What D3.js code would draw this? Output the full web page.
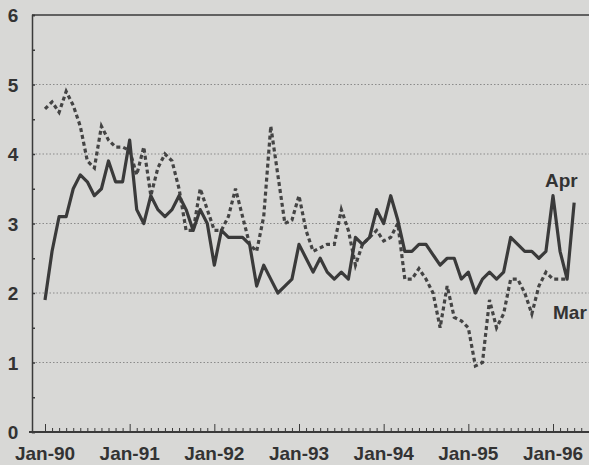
<!DOCTYPE html>
<html><head><meta charset="utf-8">
<script src="https://cdn.jsdelivr.net/npm/d3@7"></script>
<style>
body{margin:0;background:#d8d8d6;}
text{font-family:"Liberation Sans",Arial,sans-serif;font-weight:bold;fill:#333;}
</style></head>
<body><svg id="chart" width="589" height="465"></svg>
<script>
// monthly values starting Jan-90
const aprSeries = [
  1.9,2.6,3.1,3.1,3.5,3.7,3.6,3.4,3.5,3.9,3.6,3.6,
  4.2,3.2,3.0,3.4,3.2,3.1,3.2,3.4,3.2,2.9,3.2,3.0,
  2.4,2.9,2.8,2.8,2.8,2.7,2.1,2.4,2.2,2.0,2.1,2.2,
  2.7,2.5,2.3,2.5,2.3,2.2,2.3,2.2,2.8,2.7,2.8,3.2,
  3.0,3.4,3.05,2.6,2.6,2.7,2.7,2.55,2.4,2.5,2.5,2.2,
  2.3,2.0,2.2,2.3,2.2,2.3,2.8,2.7,2.6,2.6,2.5,2.6,
  3.4,2.6,2.2,3.3
];
const marSeries = [
  4.65,4.75,4.6,4.9,4.7,4.4,3.9,3.8,4.4,4.2,4.1,4.1,
  4.05,3.7,4.1,3.4,3.8,4.0,3.9,3.5,2.9,2.9,3.5,3.2,
  2.9,2.9,3.1,3.5,3.1,2.7,2.6,3.1,4.4,3.7,3.0,3.05,
  3.4,2.9,2.6,2.65,2.7,2.7,3.2,2.9,2.4,2.7,2.8,2.9,
  2.75,2.8,3.0,2.2,2.2,2.35,2.2,2.0,1.5,2.1,1.65,1.6,
  1.5,0.95,1.0,1.9,1.5,1.7,2.2,2.2,2.0,1.7,2.1,2.3,
  2.2,2.2,2.2
];
const yearLabels = ["Jan-90","Jan-91","Jan-92","Jan-93","Jan-94","Jan-95","Jan-96"];
const yTicks = [0,1,2,3,4,5,6];

const svg = d3.select("#chart");
const mLeft = 32, mRight = 589, mTop = 15, mBottom = 432;
const x = d3.scaleLinear().domain([0, 72]).range([45, 553]);
const y = d3.scaleLinear().domain([0, 6]).range([mBottom, mTop]);
const ink = "#3a3a3a";

// gridlines
svg.append("g").selectAll("line").data([1,2,3,4,5]).enter().append("line")
  .attr("x1", mLeft).attr("x2", mRight).attr("y1", d => y(d)).attr("y2", d => y(d))
  .attr("stroke", "#8a8a8a").attr("stroke-width", 1).attr("stroke-dasharray", "1.5,2");

// y axis with minor ticks
const yAxis = d3.axisLeft(y).tickValues(d3.range(0, 6.01, 0.5)).tickSize(-3).tickFormat("");
svg.append("g").attr("transform", `translate(${mLeft},0)`).call(yAxis)
  .call(g => g.selectAll("line,path").attr("stroke", ink).attr("stroke-width", 1.5));
svg.append("g").selectAll("text").data(yTicks).enter().append("text")
  .attr("x", 13).attr("y", d => y(d) + 7).attr("text-anchor", "middle")
  .attr("font-size", 19).text(d => d);

// x axis: monthly minor ticks, yearly major
const xAxis = d3.axisBottom(x).tickValues(d3.range(0, 77)).tickSize(-4).tickFormat("");
svg.append("g").attr("transform", `translate(0,${mBottom})`).call(xAxis)
  .call(g => g.select("path").remove())
  .call(g => g.selectAll("line").attr("stroke", ink).attr("stroke-width", 1)
    .attr("y2", d => d % 12 === 0 ? -8 : -4));
svg.append("line").attr("x1", mLeft - 3).attr("x2", mRight).attr("y1", mBottom).attr("y2", mBottom)
  .attr("stroke", ink).attr("stroke-width", 2);
svg.append("line").attr("x1", mLeft).attr("x2", mRight).attr("y1", mTop).attr("y2", mTop)
  .attr("stroke", ink).attr("stroke-width", 1.5);
svg.append("g").selectAll("text").data(yearLabels).enter().append("text")
  .attr("x", (d, i) => x(i * 12)).attr("y", 460).attr("text-anchor", "middle")
  .attr("font-size", 19).text(d => d);

const line = d3.line().x((d, i) => x(i)).y(d => y(d));
svg.append("path").datum(marSeries).attr("d", line).attr("fill", "none")
  .attr("stroke", "#444").attr("stroke-width", 3.2).attr("stroke-dasharray", "4,3");
svg.append("path").datum(aprSeries).attr("d", line).attr("fill", "none")
  .attr("stroke", ink).attr("stroke-width", 3.2).attr("stroke-linejoin", "round");

svg.append("text").attr("x", 545).attr("y", 187).attr("font-size", 19).text("Apr");
svg.append("text").attr("x", 553).attr("y", 319).attr("font-size", 19).text("Mar");
</script></body></html>
